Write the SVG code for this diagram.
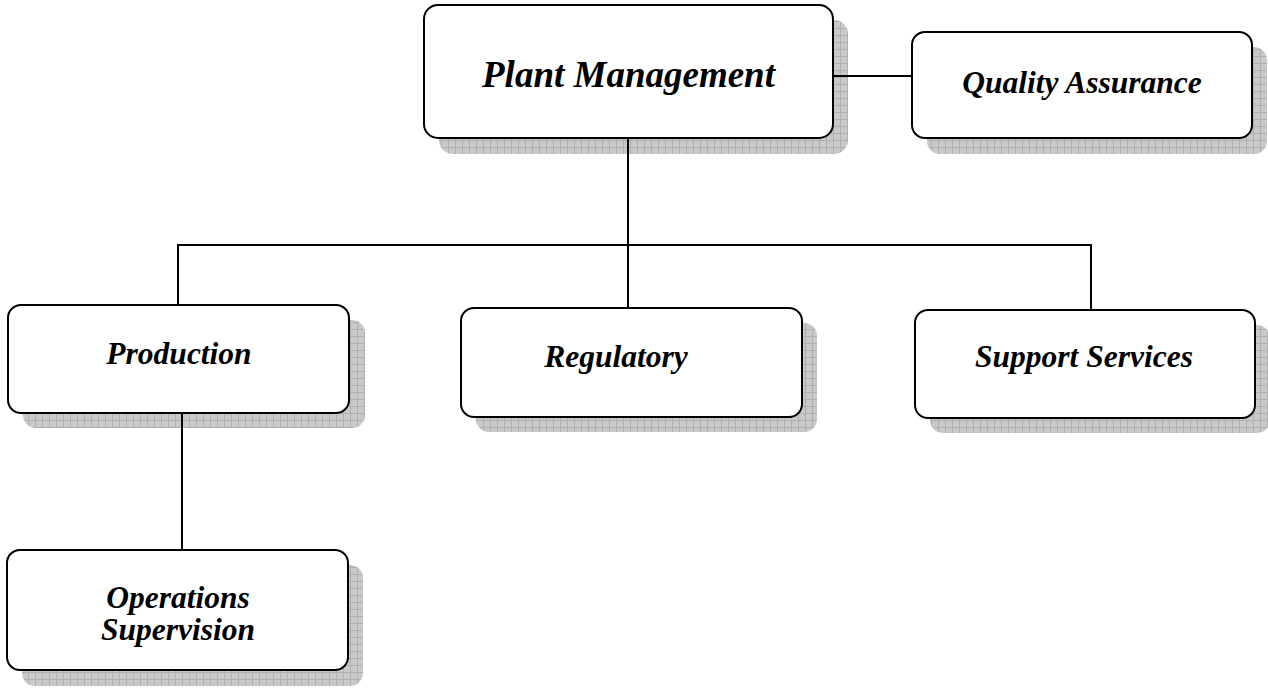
<svg xmlns="http://www.w3.org/2000/svg" width="1268" height="689" viewBox="0 0 1268 689">
<style>
.box{fill:#ffffff;stroke:#000000;stroke-width:2}
.shadow{fill:url(#grid);stroke:none}
.lbl{font-family:"Liberation Serif","Times New Roman",serif;font-weight:bold;font-style:italic;fill:#000000;text-anchor:middle}
.conn{stroke:#000000;stroke-width:2;fill:none}
</style>
<defs>
<pattern id="grid" x="0" y="0" width="7" height="7" patternUnits="userSpaceOnUse">
<rect width="7" height="7" fill="#c9c9c9"/>
<path d="M0 0.5H7M0.5 0V7" stroke="#b0b0b0" stroke-width="1"/>
</pattern>
</defs>
<rect width="1268" height="689" fill="#ffffff"/>
<g id="plant-management">
<rect class="shadow" x="439" y="20" width="409" height="134" rx="14"/>
<rect class="box" x="424" y="5" width="409" height="133" rx="14"/>
<text class="lbl" x="628.5" y="87" font-size="37">Plant Management</text>
</g>
<g id="quality-assurance">
<rect class="shadow" x="927" y="47" width="340" height="107" rx="13"/>
<rect class="box" x="912" y="32" width="340" height="106" rx="13"/>
<text class="lbl" x="1082" y="93" font-size="31.5">Quality Assurance</text>
</g>
<g id="production">
<rect class="shadow" x="23" y="320" width="342" height="108" rx="13"/>
<rect class="box" x="8" y="305" width="341" height="108" rx="13"/>
<text class="lbl" x="179" y="364" font-size="31.5">Production</text>
</g>
<g id="regulatory">
<rect class="shadow" x="476" y="323" width="341" height="109" rx="13"/>
<rect class="box" x="461" y="308" width="341" height="109" rx="13"/>
<text class="lbl" x="616" y="367" font-size="31.5">Regulatory</text>
</g>
<g id="support-services">
<rect class="shadow" x="930" y="325" width="340" height="108" rx="13"/>
<rect class="box" x="915" y="310" width="340" height="108" rx="13"/>
<text class="lbl" x="1084" y="367" font-size="31.5">Support Services</text>
</g>
<g id="operations-supervision">
<rect class="shadow" x="22" y="565" width="341" height="121" rx="13"/>
<rect class="box" x="7" y="550" width="341" height="120" rx="13"/>
<text class="lbl" x="178" y="608" font-size="31.5">Operations</text>
<text class="lbl" x="178" y="640" font-size="31.5">Supervision</text>
</g>
<g id="connectors">
<path class="conn" d="M833 76H912"/>
<path class="conn" d="M628 138V245"/>
<path class="conn" d="M178 245H1091"/>
<path class="conn" d="M178 244V305"/>
<path class="conn" d="M628 245V308"/>
<path class="conn" d="M1091 244V310"/>
<path class="conn" d="M182 413V550"/>
</g>
</svg>
